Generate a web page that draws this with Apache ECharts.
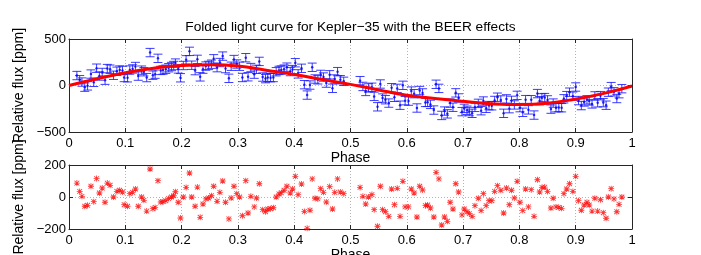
<!DOCTYPE html>
<html><head><meta charset="utf-8">
<script src="https://cdn.jsdelivr.net/npm/echarts@6/dist/echarts.min.js"></script>
<style>html,body{margin:0;padding:0;background:#fff}#c{width:701px;height:255px}</style>
</head><body><div id="c"></div>
<script>
// ---- data ----
const titleText = 'Folded light curve for Kepler\u221235 with the BEER effects';
const xTicks = [0,0.1,0.2,0.3,0.4,0.5,0.6,0.7,0.8,0.9,1];
const topYTicks = [-500,0,500];
const botYTicks = [-200,0,200];

const phase = [0.014,0.019,0.023,0.028,0.033,0.039,0.044,0.049,0.054,0.059,0.064,0.068,0.073,0.079,0.085,0.090,0.095,0.098,0.104,0.108,0.113,0.118,0.123,0.129,0.133,0.138,0.144,0.149,0.153,0.158,0.163,0.167,0.172,0.177,0.182,0.186,0.189,0.194,0.198,0.203,0.208,0.214,0.218,0.224,0.228,0.233,0.238,0.243,0.248,0.253,0.257,0.263,0.268,0.273,0.278,0.284,0.288,0.293,0.298,0.303,0.308,0.314,0.318,0.323,0.329,0.333,0.338,0.344,0.349,0.353,0.358,0.363,0.368,0.373,0.377,0.382,0.387,0.393,0.397,0.402,0.407,0.413,0.418,0.423,0.428,0.432,0.437,0.442,0.447,0.452,0.457,0.463,0.468,0.472,0.477,0.482,0.488,
0.517,0.522,0.527,0.532,0.538,0.542,0.548,0.553,0.557,0.562,0.568,0.573,0.578,0.583,0.588,0.593,0.597,0.603,0.608,0.613,0.618,0.623,0.628,0.633,0.637,0.642,0.648,0.652,0.657,0.662,0.667,0.672,0.677,0.682,0.687,0.692,0.698,0.702,0.707,0.711,0.716,0.721,0.727,0.732,0.736,0.741,0.746,0.751,0.756,0.761,0.767,0.772,0.777,0.782,0.786,0.791,0.796,0.801,0.806,0.811,0.816,0.821,0.826,0.832,0.836,0.840,0.845,0.850,0.856,0.860,0.865,0.870,0.875,0.879,0.884,0.889,0.895,0.900,0.905,0.910,0.915,0.920,0.924,0.929,0.934,0.939,0.944,0.949,0.954,0.958,0.963,0.968,0.973,0.977,0.982];

const flux = [107,62,37,-18,-4,123,34,186,102,140,57,182,175,110,153,166,162,86,83,166,178,204,101,165,148,85,354,111,122,292,162,166,175,191,204,215,241,178,83,215,276,367,218,160,281,93,176,209,216,229,287,192,247,316,182,77,207,279,231,207,86,299,94,193,122,174,259,91,74,87,84,86,148,162,166,176,197,150,171,245,125,185,9,-103,5,196,70,61,119,91,26,115,-30,70,149,62,45,
52,-10,-64,-26,-19,-117,-229,16,-135,-153,-189,-24,-127,-31,-212,2,-163,-168,-60,-88,-242,-54,-80,-182,-181,-203,-264,13,-31,-322,-275,-305,-189,-234,-79,-134,-281,-246,-266,-280,-299,-235,-192,-271,-167,-245,-216,-218,-161,-126,-156,-299,-144,-249,-160,-209,-106,-238,-288,-152,-262,-153,-318,-87,-163,-133,-130,-155,-254,-189,-239,-237,-239,-143,-109,-72,-115,-16,-162,-216,-177,-154,-166,-198,-112,-186,-109,-184,-212,-72,-12,-68,-140,-88,-34];

const residual = [87,35,4,-58,-52,67,-29,115,25,56,-33,87,73,0,35,42,31,-48,-58,21,29,50,-58,0,-21,-88,175,-73,-65,102,-31,-29,-23,-10,0,8,33,-33,-131,0,60,150,0,-58,62,-127,-44,-12,-6,8,67,-27,29,100,-33,-137,-6,67,21,0,-117,102,-100,4,-62,-6,83,-79,-92,-75,-73,-67,0,19,27,42,67,25,50,129,15,81,-90,-196,-83,113,-8,-12,52,29,-31,65,-75,29,113,31,21,
60,4,-44,0,15,-79,-183,67,-79,-92,-121,50,-48,54,-121,98,-62,-62,50,25,-125,67,44,-54,-50,-69,-125,154,113,-175,-125,-152,-33,-75,83,31,-112,-75,-92,-104,-121,-54,-8,-85,21,-54,-23,-23,35,71,42,-100,56,-48,42,-6,98,-33,-85,50,-62,46,-121,108,31,60,62,35,-69,-8,-62,-65,-71,21,50,83,35,129,-23,-83,-50,-33,-50,-88,-8,-88,-17,-98,-133,0,52,-12,-92,-46,0];

const fluxError = 45;

const modelPhase = [0,0.05,0.1,0.15,0.2,0.25,0.3,0.35,0.4,0.45,0.5,0.55,0.6,0.65,0.7,0.75,0.8,0.85,0.9,0.95,1];
const modelFlux  = [0,72,137,185,215,222,210,165,118,64,12,-48,-104,-140,-170,-195,-205,-190,-145,-85,-5];

// ---- chart ----
const FONT = '"Liberation Sans", Arial, sans-serif';
const frameColor = '#262626';
const gridColor = '#b4b4b4';
const minus = v => String(v).replace('-', '\u2212');

function xAxisPair(gi, nameGap, margin) {
  return [
    { gridIndex: gi, type: 'value', position: 'bottom', min: xTicks[0], max: xTicks[xTicks.length-1], interval: xTicks[1]-xTicks[0],
      name: 'Phase', nameLocation: 'middle', nameGap: nameGap,
      nameTextStyle: { fontFamily: FONT, fontSize: 14, color: '#000' },
      axisLine: { show: true, onZero: false, lineStyle: { color: frameColor, width: 1 } },
      axisTick: { show: true, inside: true, length: 4, lineStyle: { color: frameColor } },
      axisLabel: { show: true, margin: margin, fontFamily: FONT, fontSize: 13, color: '#000', showMinLabel: true, showMaxLabel: true,
        formatter: v => String(+(+v).toFixed(1)) },
      splitLine: { show: true, lineStyle: { color: gridColor, type: [1, 2], width: 1 } } },
    { gridIndex: gi, type: 'value', position: 'top', min: xTicks[0], max: xTicks[xTicks.length-1], interval: xTicks[1]-xTicks[0],
      axisLine: { show: true, onZero: false, lineStyle: { color: frameColor, width: 1 } },
      axisTick: { show: true, inside: true, length: 4, lineStyle: { color: frameColor } },
      axisLabel: { show: false }, splitLine: { show: false } }
  ];
}
function yAxisPair(gi, ticks) {
  const mn = ticks[0], mx = ticks[ticks.length-1], iv = ticks[1]-ticks[0];
  return [
    { gridIndex: gi, type: 'value', position: 'left', min: mn, max: mx, interval: iv,
      name: 'Relative flux [ppm]', nameLocation: 'middle', nameGap: 37, nameRotate: 90,
      nameTextStyle: { fontFamily: FONT, fontSize: 14, color: '#000' },
      axisLine: { show: true, onZero: false, lineStyle: { color: frameColor, width: 1 } },
      axisTick: { show: true, inside: true, length: 4, lineStyle: { color: frameColor } },
      axisLabel: { show: true, margin: 3, fontFamily: FONT, fontSize: 13, color: '#000', showMinLabel: true, showMaxLabel: true,
        formatter: minus },
      splitLine: { show: true, lineStyle: { color: gridColor, type: [1, 2], width: 1 } } },
    { gridIndex: gi, type: 'value', position: 'right', min: mn, max: mx, interval: iv,
      axisLine: { show: true, onZero: false, lineStyle: { color: frameColor, width: 1 } },
      axisTick: { show: true, inside: true, length: 4, lineStyle: { color: frameColor } },
      axisLabel: { show: false }, splitLine: { show: false } }
  ];
}

const xAx = xAxisPair(0, 16, 5).concat(xAxisPair(1, 16, 5));
const yAx = yAxisPair(0, topYTicks).concat(yAxisPair(1, botYTicks));

const obsData = phase.map((p, i) => [p, flux[i], fluxError]);
const resData = phase.map((p, i) => [p, residual[i]]);
const modelData = modelPhase.map((p, i) => [p, modelFlux[i]]);

const asterisk = 'path://M4.3 0L5.7 0L5.7 10L4.3 10Z M0 4.3L10 4.3L10 5.7L0 5.7Z M1.5 0.5L9.5 8.5L8.5 9.5L0.5 1.5Z M8.5 0.5L9.5 1.5L1.5 9.5L0.5 8.5Z';

const option = {
  animation: false,
  backgroundColor: '#fff',
  title: { text: titleText, left: 'center', top: 15,
    textStyle: { fontFamily: FONT, fontSize: 13.7, fontWeight: 'normal', color: '#000' } },
  grid: [
    { left: 69, right: 69, top: 39, height: 93, containLabel: false, outerBoundsMode: 'none' },
    { left: 69, right: 69, top: 165, height: 64, containLabel: false, outerBoundsMode: 'none' }
  ],
  xAxis: xAx,
  yAxis: yAx,
  series: [
    { type: 'custom', xAxisIndex: 0, yAxisIndex: 0, clip: true, data: obsData, z: 2,
      renderItem: function (params, api) {
        const x = api.value(0), y = api.value(1), e = api.value(2);
        const t = api.coord([x, y + e]), b = api.coord([x, y - e]);
        const hw = 4.5;
        const st = { stroke: '#1a1aff', lineWidth: 1, opacity: 0.85 };
        return { type: 'group', children: [
          { type: 'line', shape: { x1: t[0], y1: t[1], x2: b[0], y2: b[1] }, style: st },
          { type: 'line', shape: { x1: t[0]-hw, y1: t[1], x2: t[0]+hw, y2: t[1] }, style: st },
          { type: 'line', shape: { x1: b[0]-hw, y1: b[1], x2: b[0]+hw, y2: b[1] }, style: st }
        ]};
      } },
    { type: 'scatter', xAxisIndex: 0, yAxisIndex: 0, data: obsData.map(d => [d[0], d[1]]), symbol: 'circle', symbolSize: 2.5,
      itemStyle: { color: '#0000ff' }, z: 3 },
    { type: 'line', xAxisIndex: 0, yAxisIndex: 0, data: modelData, smooth: 0.5, showSymbol: false, symbol: 'none',
      lineStyle: { color: '#ff0000', width: 3 }, z: 4 },
    { type: 'scatter', xAxisIndex: 2, yAxisIndex: 2, data: resData, symbol: asterisk, symbolSize: 6,
      itemStyle: { color: '#ff0000' }, z: 3 }
  ]
};
const chart = echarts.init(document.getElementById('c'), null, { renderer: 'canvas' });
chart.setOption(option);
</script></body></html>
